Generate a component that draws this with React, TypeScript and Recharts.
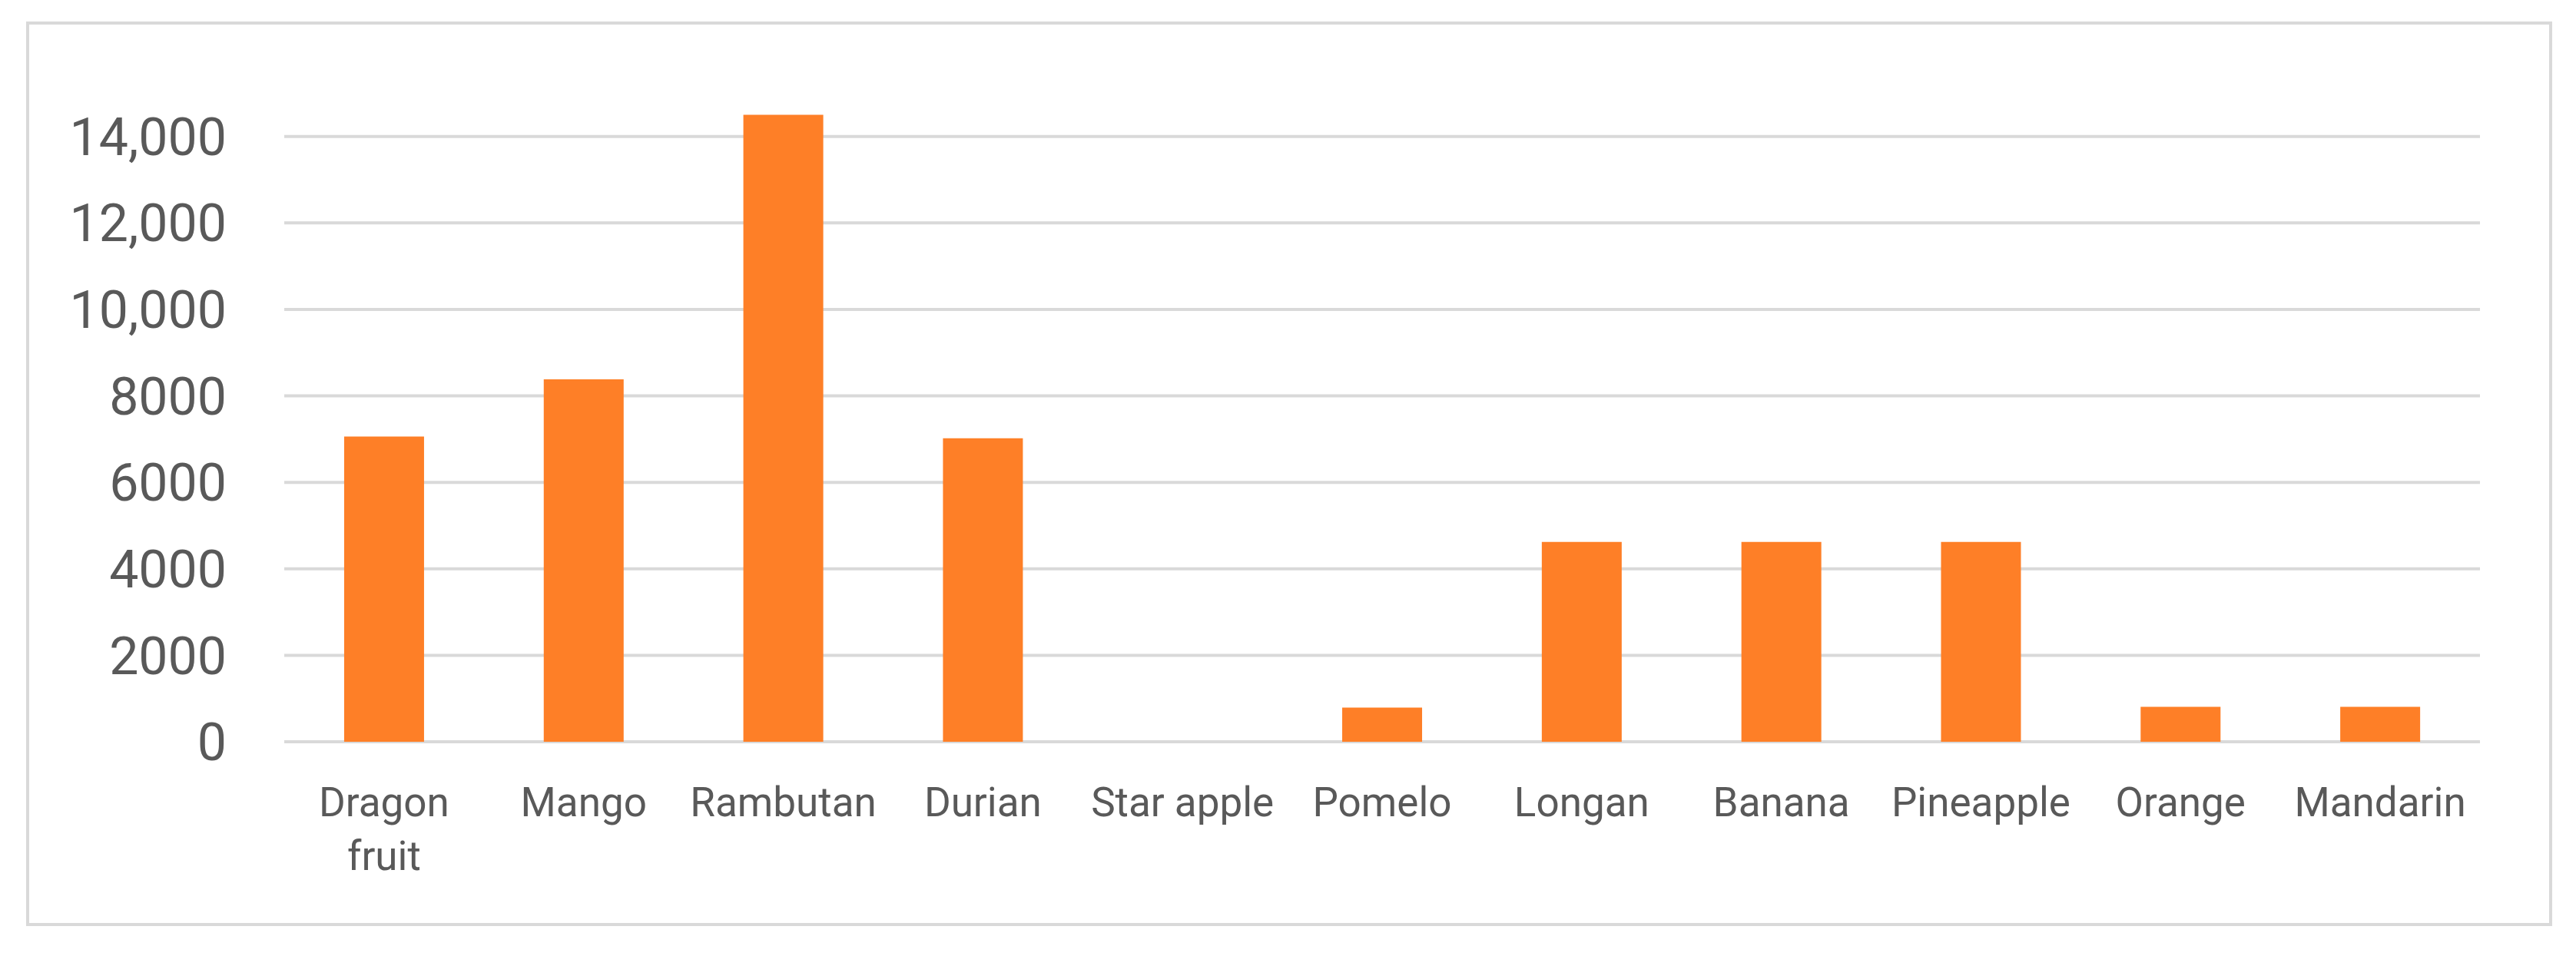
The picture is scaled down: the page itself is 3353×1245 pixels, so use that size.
import React from "react";
import { BarChart, Bar, XAxis, YAxis, CartesianGrid } from "recharts";

const fruits = [
  "Dragon fruit",
  "Mango",
  "Rambutan",
  "Durian",
  "Star apple",
  "Pomelo",
  "Longan",
  "Banana",
  "Pineapple",
  "Orange",
  "Mandarin",
];
const amounts = [7060, 8380, 14500, 7020, 0, 790, 4620, 4620, 4620, 810, 810];
const yTicks = [0, 2000, 4000, 6000, 8000, 10000, 12000, 14000];

const data = fruits.map((name, i) => ({ name, value: amounts[i] }));

const FONT = "Roboto";
const GREY = "#595959";
const X_FONT_SIZE = 53;

const formatY = (v: number) => (v >= 10000 ? v.toLocaleString("en-US") : String(v));

// wrap a label into lines no wider than maxWidth, like Excel does for long category names
let ctx: CanvasRenderingContext2D | null = null;
function wrapLabel(label: string, maxWidth: number) {
  if (!ctx) ctx = document.createElement("canvas").getContext("2d");
  if (!ctx) return [label];
  ctx.font = `${X_FONT_SIZE}px ${FONT}`;
  const words = label.split(" ");
  const lines: string[] = [];
  let cur = "";
  for (const w of words) {
    const next = cur ? cur + " " + w : w;
    if (cur && ctx.measureText(next).width > maxWidth) {
      lines.push(cur);
      cur = w;
    } else {
      cur = next;
    }
  }
  if (cur) lines.push(cur);
  return lines;
}

function FruitTick(props: any) {
  const { x, y, payload } = props;
  const lines = wrapLabel(String(payload.value), 250);
  return (
    <text
      x={x}
      y={y}
      textAnchor="middle"
      fill={GREY}
      fontSize={X_FONT_SIZE}
      fontFamily={FONT}
    >
      {lines.map((l, i) => (
        <tspan key={i} x={x} dy={i === 0 ? "0.71em" : 70}>
          {l}
        </tspan>
      ))}
    </text>
  );
}

export default function App() {
  return (
    <div
      style={{
        position: "absolute",
        left: 0,
        top: 0,
        width: 3353,
        height: 1245,
        background: "#fff",
      }}
    >
      <div
        style={{
          position: "absolute",
          left: 34,
          top: 28,
          width: 3280,
          height: 1170,
          border: "4px solid #d9d9d9",
        }}
      />
      <div style={{ position: "absolute", left: 0, top: 0 }}>
        <BarChart
          width={3353}
          height={1245}
          data={data}
          margin={{ top: 65, right: 125, bottom: 249, left: 170 }}
          barCategoryGap="30%"
        >
          <CartesianGrid
            vertical={false}
            horizontalValues={yTicks}
            stroke="#d9d9d9"
            strokeWidth={4}
          />
          <XAxis
            dataKey="name"
            interval={0}
            height={30}
            axisLine={false}
            tickLine={false}
            tickSize={0}
            tickMargin={59}
            tick={<FruitTick />}
          />
          <YAxis
            width={200}
            domain={[0, 16000]}
            ticks={yTicks}
            tickFormatter={formatY}
            axisLine={false}
            tickLine={false}
            tickSize={0}
            tickMargin={75}
            tick={{ fill: GREY, fontSize: 68, fontFamily: FONT }}
          />
          <Bar dataKey="value" fill="#fe7f27" isAnimationActive={false} />
        </BarChart>
      </div>
    </div>
  );
}
